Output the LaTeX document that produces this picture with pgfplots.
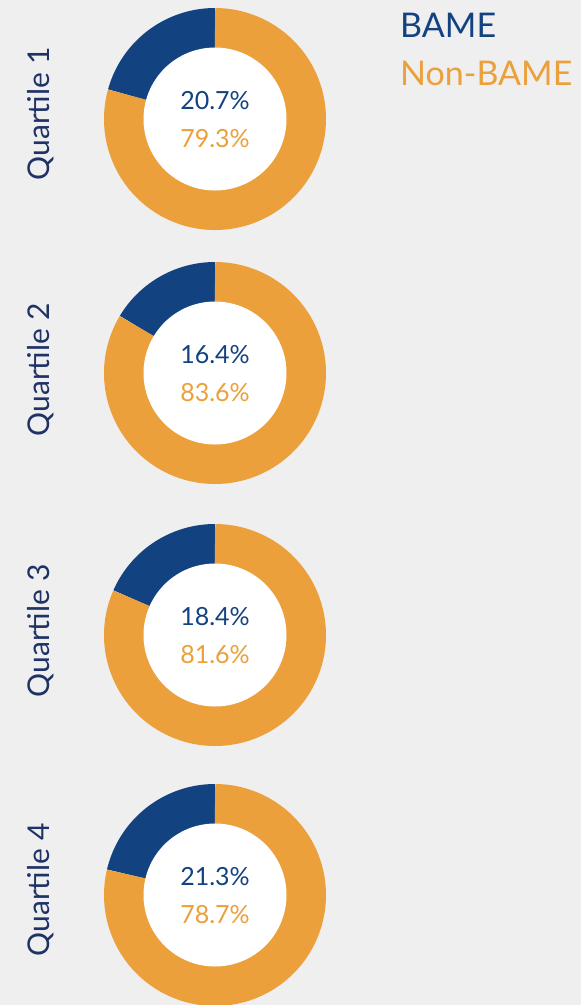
\documentclass[border=0pt]{standalone}
\usepackage{pgfplots}
\pgfplotsset{compat=1.18}
\usepackage{fontspec}
\setmainfont{Lato}
\definecolor{bg}{HTML}{EFEFEF}
\definecolor{bame}{HTML}{134281}
\definecolor{nonbame}{HTML}{EBA03C}
\definecolor{qlab}{HTML}{1F3266}
% BAME share (%) per quartile
\def\qA{20.7}\def\qB{16.4}\def\qC{18.4}\def\qD{21.3}
\newcommand\donut[4]{% #1 center y, #2 bame pct, #3 bame label, #4 nonbame label
  \addplot[bame, line width=40bp, line cap=butt, domain=90:{90+3.6*#2}, samples=120, variable=\t]
    ({215+91*cos(\t)}, {#1-91*sin(\t)});
  \addplot[nonbame, line width=40bp, line cap=butt, domain={90+3.6*#2}:450, samples=200, variable=\t]
    ({215+91*cos(\t)}, {#1-91*sin(\t)});
  \addplot[fill=white, draw=none, domain=0:360, samples=180, variable=\t]
    ({215+71.5*cos(\t)}, {#1-71.5*sin(\t)}) -- cycle;
  \node[text=bame, inner sep=0, font=\fontsize{25bp}{30bp}\selectfont] at (axis cs:215,{#1-18}) {#3};
  \node[text=nonbame, inner sep=0, font=\fontsize{25bp}{30bp}\selectfont] at (axis cs:215,{#1+20}) {#4};
}
\begin{document}
\begin{tikzpicture}
\fill[bg] (0,0) rectangle (581bp,1005bp);
\begin{axis}[at={(0,0)}, anchor=south west, width=581bp, height=1005bp, scale only axis,
  xmin=0, xmax=581, ymin=0, ymax=1005, y dir=reverse, hide axis, clip=true]
\donut{119}{\qA}{20.7\%}{79.3\%}
\donut{373}{\qB}{16.4\%}{83.6\%}
\donut{635}{\qC}{18.4\%}{81.6\%}
\donut{895}{\qD}{21.3\%}{78.7\%}
\node[rotate=90, text=qlab, inner sep=0, font=\fontsize{30bp}{36bp}\selectfont] at (axis cs:41,114) {Quartile 1};
\node[rotate=90, text=qlab, inner sep=0, font=\fontsize{30bp}{36bp}\selectfont] at (axis cs:41,370) {Quartile 2};
\node[rotate=90, text=qlab, inner sep=0, font=\fontsize{30bp}{36bp}\selectfont] at (axis cs:41,631) {Quartile 3};
\node[rotate=90, text=qlab, inner sep=0, font=\fontsize{30bp}{36bp}\selectfont] at (axis cs:41,890) {Quartile 4};
\node[anchor=base west, text=bame, inner sep=0, font=\fontsize{34bp}{40bp}\selectfont] at (axis cs:400,37) {BAME};
\node[anchor=base west, text=nonbame, inner sep=0, font=\fontsize{34bp}{40bp}\selectfont] at (axis cs:400,85) {Non-BAME};
\end{axis}
\end{tikzpicture}
\end{document}
